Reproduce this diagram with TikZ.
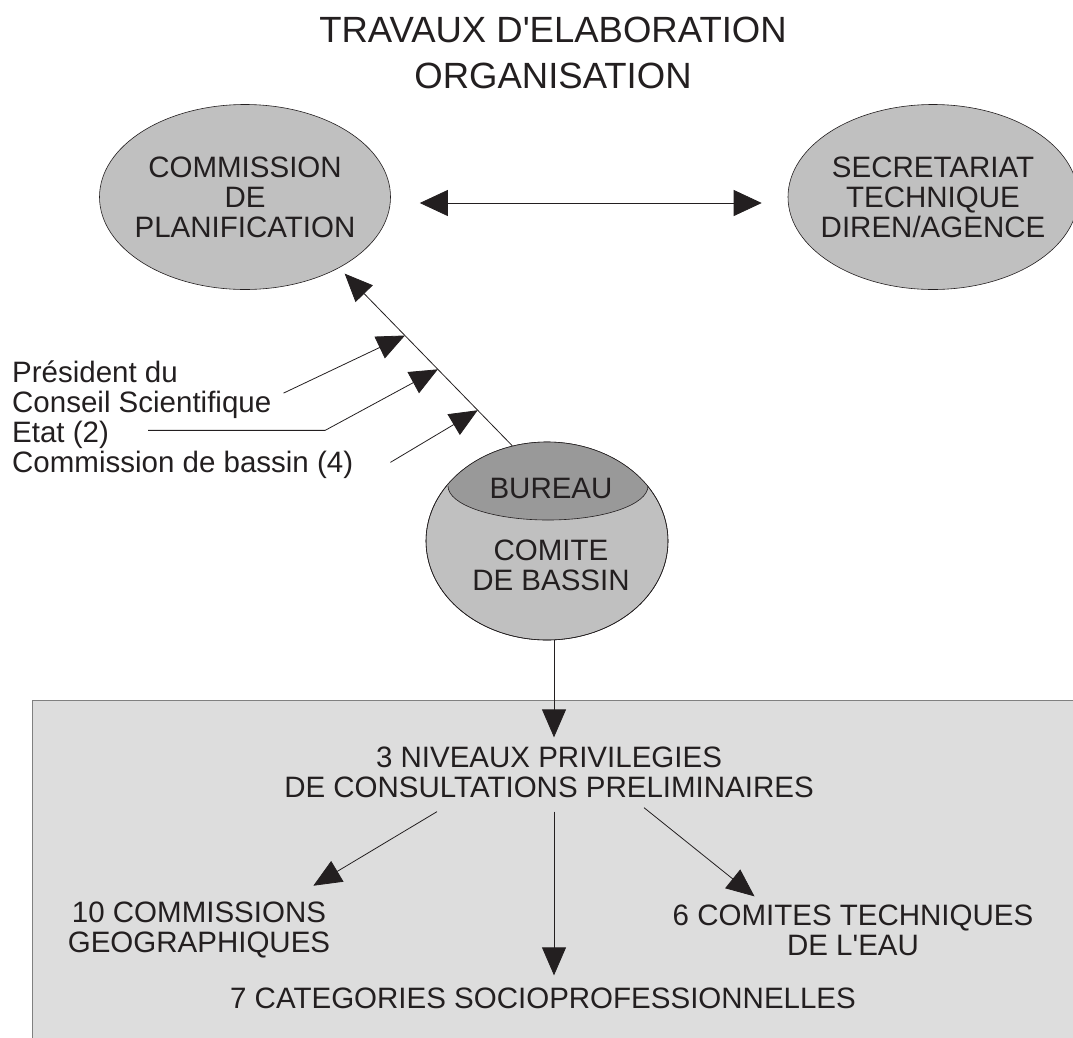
\documentclass[tikz,border=0pt]{standalone}
\usepackage{fontspec}
\setmainfont{Liberation Sans}
\usetikzlibrary{arrows.meta,shapes.geometric}

\definecolor{ink}{HTML}{231F20}
\definecolor{ovalgray}{HTML}{C0C0C0}
\definecolor{bureaugray}{HTML}{999999}
\definecolor{boxgray}{HTML}{DDDDDD}

\newcommand\diagfont{\fontsize{29.5}{30}\selectfont}
\newcommand\titlefont{\fontsize{36.5}{45.5}\selectfont}

\begin{document}
\begin{tikzpicture}[x=1pt, y=-1pt,
    every node/.style={text=ink, inner sep=0pt},
    oval/.style={ellipse, draw=ink, line width=0.6pt, fill=ovalgray},
    lbl/.style={font=\diagfont, align=center},
    arr/.style={draw=ink, line width=0.8pt, -{Triangle[length=28pt,width=24pt]}}]

  \useasboundingbox (0,0) rectangle (1073,1037);
  \clip (0,0) rectangle (1073,1037);

  % consultations
  \draw[draw=gray, line width=1pt, fill=boxgray] (32,700) rectangle (1100,1060);

  \node[font=\titlefont, align=center] (ttl) at (553,53) {TRAVAUX D\textquotesingle ELABORATION\\ORGANISATION};

  \node[oval, minimum width=291pt, minimum height=185pt,
    label={[lbl]center:{COMMISSION\\DE\\PLANIFICATION}}] (comm) at (245,197) {};
  \node[oval, minimum width=290pt, minimum height=185pt,
    label={[lbl]center:{SECRETARIAT\\TECHNIQUE\\DIREN/AGENCE}}] (secr) at (933,197) {};
  \draw[arr, {Triangle[length=28pt,width=26pt]}-{Triangle[length=28pt,width=26pt]},
    shorten <=29pt, shorten >=26pt] ([shift={(0,6)}]comm.east) -- ([shift={(0,6)}]secr.west);

  % comite de bassin, bureau on top
  \node[oval, minimum width=242pt, minimum height=198pt] (comite) at (547,541) {};
  \begin{scope}
    \clip (547,541) ellipse [x radius=121, y radius=99];
    \fill[bureaugray] (420,486) -- (448,486)
      arc[start angle=180, end angle=0, x radius=100, y radius=34]
      -- (680,486) -- (680,420) -- (420,420) -- cycle;
    \draw[ink, line width=0.6pt] (448,486)
      arc[start angle=180, end angle=0, x radius=100, y radius=34];
  \end{scope}
  \draw[ink, line width=0.6pt] (547,541) ellipse [x radius=121, y radius=99];
  \node[font=\diagfont] (bureau) at (551,488) {BUREAU};
  \node[lbl] (cdb) at (551,565) {COMITE\\DE BASSIN};

  \draw[arr, shorten >=8pt] (comite.110) -- (comm.-37)
    coordinate[pos=0.2] (j3) coordinate[pos=0.43] (j2) coordinate[pos=0.62] (j1);

  % members
  \node[font=\diagfont, align=left, anchor=north west] (pres) at (12,361) {Président du\\Conseil Scientifique};
  \node[font=\diagfont, anchor=base west] (etat) at (12,442) {Etat (2)};
  \node[font=\diagfont, anchor=base west] (cbas) at (12,472) {Commission de bassin (4)};

  \draw[arr] ([shift={(12,3)}]pres.east) -- (j1);
  \draw[arr] ([shift={(39,-4)}]etat.east) -- ++(177,0) -- (j2);
  \draw[arr] ([shift={(37,-2)}]cbas.east) -- (j3);

  \node[lbl, inner sep=9pt] (niv) at (549,772) {3 NIVEAUX PRIVILEGIES\\DE CONSULTATIONS PRELIMINAIRES};
  \node[lbl] (geo) at (199,930) {10 COMMISSIONS\\GEOGRAPHIQUES};
  \node[lbl] (eau) at (853,930) {6 COMITES TECHNIQUES\\DE L\textquotesingle EAU};
  \node[lbl] (cat) at (543,998) {7 CATEGORIES SOCIOPROFESSIONNELLES};

  \draw[arr] ([xshift=7pt]comite.south) -- ([xshift=5pt]niv.north);
  \draw[arr] ([shift={(-112,5)}]niv.south) -- ([shift={(-17,-16)}]geo.north east);
  \draw[arr] ([shift={(5,5)}]niv.south) -- ([shift={(11,-12)}]cat.north);
  \draw[arr] ([shift={(95,1)}]niv.south) -- ([shift={(82,-8)}]eau.north west);
\end{tikzpicture}
\end{document}
